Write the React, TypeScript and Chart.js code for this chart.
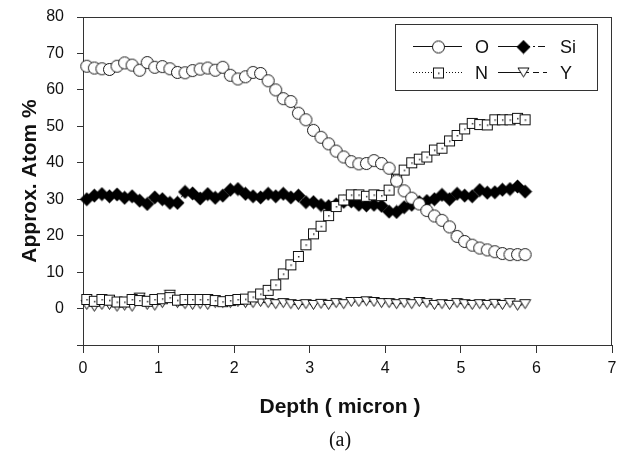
import { useEffect, useRef } from 'react';
import { Chart, registerables } from 'chart.js';

Chart.register(...registerables);

// Depth (micron) of each sampling point
const depth = [
  0.05, 0.15, 0.25, 0.35, 0.45, 0.55, 0.65, 0.75, 0.85, 0.95,
  1.05, 1.15, 1.25, 1.35, 1.45, 1.55, 1.65, 1.75, 1.85, 1.95,
  2.05, 2.15, 2.25, 2.35, 2.45, 2.55, 2.65, 2.75, 2.85, 2.95,
  3.05, 3.15, 3.25, 3.35, 3.45, 3.55, 3.65, 3.75, 3.85, 3.95,
  4.05, 4.15, 4.25, 4.35, 4.45, 4.55, 4.65, 4.75, 4.85, 4.95,
  5.05, 5.15, 5.25, 5.35, 5.45, 5.55, 5.65, 5.75, 5.85,
];

const oxygen = [
  66.5, 66.0, 65.8, 65.6, 66.5, 67.4, 66.8, 65.4, 67.5, 66.2,
  66.4, 65.8, 64.8, 64.7, 65.3, 65.7, 66.0, 65.4, 66.2, 64.0,
  63.0, 63.6, 64.8, 64.5, 62.5, 60.0, 57.6, 56.8, 53.6, 51.8,
  48.9, 47.0, 45.2, 43.2, 41.6, 40.3, 39.7, 39.8, 40.6, 39.8,
  38.5, 35.0, 32.3, 30.3, 28.7, 26.9, 25.4, 24.2, 22.4, 19.8,
  18.4, 17.4, 16.6, 16.1, 15.6, 15.1, 14.8, 14.8, 14.8,
];

const nitrogen = [
  2.5, 2.0, 2.5, 2.3, 1.8, 1.8, 2.5, 2.2, 2.0, 2.5,
  2.7, 3.0, 2.3, 2.5, 2.5, 2.5, 2.5, 2.2, 1.9, 2.2,
  2.5, 2.6, 3.2, 4.0, 5.0, 6.5, 9.5, 12.0, 14.3, 17.5,
  20.5, 22.6, 25.5, 28.0, 29.8, 31.2, 31.2, 30.8, 31.2, 31.0,
  32.5, 35.5, 38.0, 40.0, 41.0, 41.6, 43.5, 44.0, 46.0, 47.5,
  49.3, 50.8, 50.5, 50.4, 51.8, 51.8, 51.8, 52.2, 51.8,
];

const silicon = [
  30.0, 31.0, 31.4, 30.8, 31.3, 30.4, 30.8, 29.6, 28.7, 30.5,
  30.0, 29.0, 29.0, 32.0, 31.6, 30.2, 31.4, 30.4, 31.0, 32.6,
  32.8, 31.5, 30.8, 30.5, 31.5, 30.8, 31.5, 30.5, 31.0, 29.2,
  29.2, 28.4, 28.1, 28.6, 29.3, 29.4, 28.5, 28.3, 28.5, 28.2,
  26.6, 26.5, 27.8, 28.5, 29.2, 29.5, 30.0, 31.2, 30.0, 31.5,
  31.0, 30.8, 32.5, 31.8, 31.9, 32.6, 32.8, 33.5, 32.1,
];

const yttrium = [
  1.0, 0.5, 1.0, 1.0, 0.5, 0.8, 0.5, 3.0, 1.0, 0.8,
  1.5, 3.8, 1.5, 1.2, 1.0, 1.2, 1.0, 1.5, 1.5, 1.5,
  1.8, 1.5, 1.5, 1.8, 1.5, 1.2, 1.5, 1.2, 1.0, 1.2,
  1.0, 1.3, 1.0, 1.5, 1.2, 1.8, 1.8, 2.0, 1.8, 1.5,
  1.5, 1.2, 1.5, 1.2, 1.8, 1.5, 1.0, 1.2, 1.0, 1.5,
  1.2, 1.0, 1.2, 1.0, 1.3, 1.0, 1.5, 0.8, 1.2,
];

const seriesNames = ['O', 'N', 'Si', 'Y'];
const xTickValues = [0, 1, 2, 3, 4, 5, 6, 7];
const yTickValues = [-10, 0, 10, 20, 30, 40, 50, 60, 70, 80];
const xTitle = 'Depth ( micron )';
const yTitle = 'Approx. Atom %';
const caption = '(a)';

const SANS = '"Liberation Sans", Arial, Helvetica, sans-serif';
const INK = '#111';

function makeMarker(kind: string): HTMLCanvasElement {
  const c = document.createElement('canvas');
  const ctx = c.getContext('2d') as CanvasRenderingContext2D;
  if (kind === 'circle') {
    c.width = 15; c.height = 15;
    ctx.lineWidth = 1;
    ctx.strokeStyle = '#111';
    ctx.beginPath();
    ctx.arc(7.5, 7.5, 6, 0, Math.PI * 2);
    ctx.fillStyle = '#fff';
    ctx.fill();
    ctx.stroke();
  } else if (kind === 'square') {
    c.width = 13; c.height = 13;
    ctx.lineWidth = 1;
    ctx.strokeStyle = '#111';
    ctx.fillStyle = '#fff';
    ctx.fillRect(1.5, 1.5, 10, 10);
    ctx.strokeRect(1.5, 1.5, 10, 10);
    ctx.fillStyle = '#333';
    ctx.fillRect(6, 6, 1.5, 1.5);
  } else if (kind === 'diamond') {
    c.width = 15; c.height = 15;
    ctx.beginPath();
    ctx.moveTo(7.5, 0.5);
    ctx.lineTo(14.5, 7.5);
    ctx.lineTo(7.5, 14.5);
    ctx.lineTo(0.5, 7.5);
    ctx.closePath();
    ctx.fillStyle = '#000';
    ctx.fill();
  } else {
    c.width = 13; c.height = 12;
    ctx.lineWidth = 1;
    ctx.strokeStyle = '#111';
    ctx.beginPath();
    ctx.moveTo(1, 1.5);
    ctx.lineTo(12, 1.5);
    ctx.lineTo(6.5, 10.5);
    ctx.closePath();
    ctx.fillStyle = '#fff';
    ctx.fill();
    ctx.stroke();
  }
  return c;
}

export default function App() {
  const ref = useRef<HTMLCanvasElement | null>(null);

  useEffect(() => {
    const canvas = ref.current;
    if (!canvas) return;

    const markers = {
      circle: makeMarker('circle'),
      square: makeMarker('square'),
      diamond: makeMarker('diamond'),
      triangle: makeMarker('triangle'),
    };

    const toPoints = (vals: number[]) => vals.map((v, i) => ({ x: depth[i], y: v }));

    const legendDefs = [
      { name: seriesNames[0], marker: markers.circle, dash: [] as number[], col: 0, row: 0 },
      { name: seriesNames[1], marker: markers.square, dash: [1, 2], col: 0, row: 1 },
      { name: seriesNames[2], marker: markers.diamond, dash: [7, 3, 2, 3], col: 1, row: 0 },
      { name: seriesNames[3], marker: markers.triangle, dash: [6, 4], col: 1, row: 1 },
    ];

    const decorPlugin = {
      id: 'decor',
      beforeDatasetsDraw(chart: any) {
        const { ctx, chartArea } = chart;
        ctx.save();
        ctx.strokeStyle = '#333';
        ctx.lineWidth = 1;
        ctx.strokeRect(
          Math.round(chartArea.left) + 0.5,
          Math.round(chartArea.top) + 0.5,
          Math.round(chartArea.right - chartArea.left) - 1,
          Math.round(chartArea.bottom - chartArea.top)
        );
        ctx.restore();
      },
      afterDraw(chart: any) {
        const { ctx, chartArea } = chart;
        ctx.save();
        ctx.fillStyle = INK;
        ctx.textAlign = 'center';
        ctx.textBaseline = 'middle';
        // axis titles
        ctx.font = `bold 21px ${SANS}`;
        ctx.fillText(xTitle, chartArea.left + 257, chartArea.bottom + 62);
        ctx.save();
        ctx.translate(30, (chartArea.top + chartArea.bottom) / 2);
        ctx.rotate(-Math.PI / 2);
        ctx.fillText(yTitle, 0, 0);
        ctx.restore();
        // caption
        ctx.font = '20px "Liberation Serif", "Times New Roman", serif';
        ctx.fillText(caption, chartArea.left + 257, chartArea.bottom + 96);

        // legend box
        const bx = chartArea.left + 312;
        const by = chartArea.top + 7;
        ctx.fillStyle = '#fff';
        ctx.fillRect(bx + 0.5, by + 0.5, 202, 66);
        ctx.strokeStyle = '#333';
        ctx.lineWidth = 1;
        ctx.strokeRect(bx + 0.5, by + 0.5, 202, 66);
        legendDefs.forEach((d) => {
          const x0 = bx + 18 + d.col * 85;
          const yc = by + 22 + d.row * 26;
          const x1 = x0 + 49;
          const mx = x0 + 25;
          ctx.strokeStyle = '#111';
          ctx.lineWidth = 1;
          if (d.col === 1) {
            ctx.setLineDash([]);
            ctx.beginPath();
            ctx.moveTo(x0, yc + 0.5);
            ctx.lineTo(mx, yc + 0.5);
            ctx.stroke();
            ctx.setLineDash(d.dash);
            ctx.beginPath();
            ctx.moveTo(mx, yc + 0.5);
            ctx.lineTo(x1, yc + 0.5);
            ctx.stroke();
          } else {
            ctx.setLineDash(d.dash);
            ctx.beginPath();
            ctx.moveTo(x0, yc + 0.5);
            ctx.lineTo(x1, yc + 0.5);
            ctx.stroke();
          }
          ctx.setLineDash([]);
          ctx.drawImage(d.marker, Math.round(mx - d.marker.width / 2), Math.round(yc - d.marker.height / 2) + 0.5);
          ctx.fillStyle = INK;
          ctx.font = `18px ${SANS}`;
          ctx.textAlign = 'left';
          ctx.textBaseline = 'middle';
          ctx.fillText(d.name, x1 + 13, yc + 2);
        });
        ctx.restore();
      },
    };

    const common = {
      showLine: true,
      borderColor: '#111',
      borderWidth: 1,
      backgroundColor: '#fff',
      pointRadius: 6,
      pointHoverRadius: 6,
      clip: false as const,
    };

    const chart = new Chart(canvas, {
      type: 'scatter',
      data: {
        datasets: [
          { ...common, label: seriesNames[0], data: toPoints(oxygen), pointStyle: markers.circle, borderDash: [] },
          { ...common, label: seriesNames[1], data: toPoints(nitrogen), pointStyle: markers.square, borderDash: [1, 2] },
          { ...common, label: seriesNames[2], data: toPoints(silicon), pointStyle: markers.diamond, borderDash: [7, 3, 2, 3] },
          { ...common, label: seriesNames[3], data: toPoints(yttrium), pointStyle: markers.triangle, borderDash: [6, 4] },
        ],
      },
      options: {
        responsive: false,
        animation: false,
        events: [],
        layout: { padding: { top: 17, right: 3, left: 0, bottom: 0 } },
        plugins: {
          legend: { display: false },
          tooltip: { enabled: false },
          title: { display: false },
        },
        scales: {
          x: {
            type: 'linear',
            min: 0,
            max: 7,
            afterFit: (scale: any) => {
              scale.height = 120;
              scale.paddingLeft = 0;
              scale.paddingRight = 0;
            },
            afterBuildTicks: (scale: any) => { scale.ticks = xTickValues.map((v) => ({ value: v })); },
            ticks: {
              color: INK,
              font: { family: SANS, size: 16 },
              padding: 6,
              maxRotation: 0,
              autoSkip: false,
            },
            grid: {
              display: true,
              drawOnChartArea: false,
              drawTicks: true,
              tickLength: 8,
              color: '#333',
              lineWidth: 1,
            },
            border: { display: true, color: '#333', width: 1 },
          },
          y: {
            type: 'linear',
            min: -10,
            max: 80,
            afterFit: (scale: any) => {
              scale.width = 83;
              scale.paddingTop = 0;
              scale.paddingBottom = 0;
            },
            afterBuildTicks: (scale: any) => { scale.ticks = yTickValues.map((v) => ({ value: v })); },
            ticks: {
              color: INK,
              font: { family: SANS, size: 16 },
              padding: 13,
              autoSkip: false,
              callback: (v: any) => (Number(v) === -10 ? '' : String(v)),
            },
            grid: {
              display: true,
              drawOnChartArea: false,
              drawTicks: true,
              tickLength: 6,
              color: '#333',
              lineWidth: 1,
            },
            border: { display: true, color: '#333', width: 1 },
          },
        },
      },
      plugins: [decorPlugin],
    } as any);

    return () => chart.destroy();
  }, []);

  return (
    <div style={{ position: 'fixed', left: 0, top: 0, width: 619, height: 465, background: '#fff' }}>
      <canvas ref={ref} width={619} height={465} style={{ display: 'block', width: 619, height: 465 }} />
    </div>
  );
}
